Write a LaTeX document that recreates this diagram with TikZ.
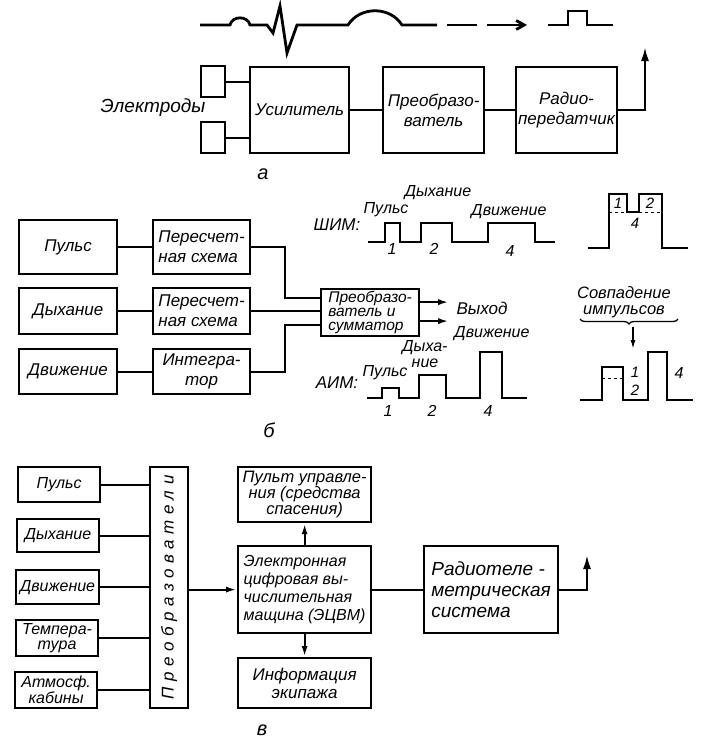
\documentclass[tikz,border=0pt]{standalone}
\usepackage{fontspec}
\setmainfont{Liberation Sans}
\newfontfamily\spacedfont[LetterSpace=33]{Liberation Sans}
\usetikzlibrary{arrows.meta,calc,decorations.pathreplacing}
\newcommand{\fsz}[2]{\fontsize{#1}{#2}\selectfont\itshape}

\begin{document}
\begin{tikzpicture}[x=1pt, y=-1pt,
  box/.style={
    rectangle,
    draw,
    line width=2.2pt,
    inner sep=2pt,
    align=center
  },
  wire/.style={line width=2.2pt},
  arr/.style={line width=2.2pt, -{Latex[length=11pt, width=6pt]}},
  wave/.style={line width=2.8pt, line join=miter},
  lbl/.style={inner sep=0pt, align=center}
  ]
  \useasboundingbox (0,0) rectangle (702,747);

  % a: electrodes, amplifier, transmitter
  \begin{scope}
    \node[anchor=north west, box, minimum width=24, minimum height=31] (el-top) at (200,65) {};
    \node[anchor=north west, box, minimum width=24, minimum height=31] (el-bot) at (200,121) {};
    \node[lbl, font=\fsz{19}{22}] (el-label) at (153,108) {Электроды};

    \node[anchor=north west, box, minimum width=99, minimum height=86, font=\fsz{17}{20}] (amp) at (249,66) {Усилитель};
    \node[anchor=north west, box, minimum width=101, minimum height=86, font=\fsz{17}{20}] (conv-a) at (382,66) {Преобразо-\\ватель};
    \node[anchor=north west, box, minimum width=100, minimum height=86, font=\fsz{17}{20}] (radio-a) at (515,66) {Радио-\\передатчик};
    \coordinate (a-out) at (645,47);

    \node[lbl, font=\fsz{20}{22}] (lbl-a) at (263,174) {а};
  \end{scope}

  \draw[wire] (el-top.east) -- (el-top.east -| amp.west);
  \draw[wire] (el-bot.east) -- (el-bot.east -| amp.west);
  \draw[wire] (amp) -- (conv-a);
  \draw[wire] (conv-a) -- (radio-a);
  \draw[arr, -{Latex[length=14pt, width=8pt]}] (radio-a.east) -| (a-out);

  % signal above
  \draw[wave] (200,25) -- (230,25) .. controls (232,15.5) and (248,15.5) .. (250,25)
    -- (267,25) -- (273,33) -- (280,6) -- (287,53) -- (297,25) -- (348,25)
    .. controls (360,6) and (390,6) .. (402,25) -- (437,25);
  \draw[wave] (447,25) -- (477,25);
  \draw[wave, -{Straight Barb[length=8pt, width=9pt]}] (487,25) -- (527,25);
  \draw[wave] (548,25) -- (568,25) -- (568,11) -- (587,11) -- (587,25) -- (613,25);

  % b: channels and summator
  \begin{scope}
    \node[anchor=north west, box, minimum width=98, minimum height=54, font=\fsz{17}{20}] (b-pulse) at (18,219) {Пульс};
    \node[anchor=north west, box, minimum width=98, minimum height=46, font=\fsz{17}{20}] (b-breath) at (18,287) {Дыхание};
    \node[anchor=north west, box, minimum width=98, minimum height=45, font=\fsz{17}{20}] (b-motion) at (18,348) {Движение};

    \node[anchor=north west, box, minimum width=97, minimum height=54, align=left, font=\fsz{17}{20}] (b-count1) at (152,219) {Пересчет-\\ная схема};
    \node[anchor=north west, box, minimum width=97, minimum height=46, align=left, font=\fsz{17}{20}] (b-count2) at (152,287) {Пересчет-\\ная схема};
    \node[anchor=north west, box, minimum width=97, minimum height=45, font=\fsz{17}{20}] (b-integr) at (152,348) {Интегра-\\тор};

    \node[anchor=north west, box, minimum width=98, minimum height=47, align=left, font=\fsz{15.5}{14}] (b-sum) at (320,288) {Преобразо-\\ватель и\\сумматор};
    \node[lbl, font=\fsz{17}{20}] (b-out) at (482,308) {Выход};

    \node[lbl, font=\fsz{20}{22}] (lbl-b) at (269,430) {б};
  \end{scope}

  \draw[wire] (b-pulse) -- (b-count1);
  \draw[wire] (b-breath) -- (b-count2);
  \draw[wire] (b-motion) -- (b-integr);
  \draw[wire] (b-count1.east) -- ++(34,0) |- ($(b-sum.west)+(0,-14.5)$);
  \draw[wire] (b-count2.east) -- (b-count2.east -| b-sum.west);
  \draw[wire] (b-integr.east) -- ++(34,0) |- ($(b-sum.west)+(0,12.5)$);
  \draw[arr] ($(b-sum.east)+(0,-10.5)$) -- ++(29,0);
  \draw[arr] ($(b-sum.east)+(0,8.5)$) -- ++(29,0);

  % PWM
  \node[lbl, font=\fsz{17}{20}] (pwm) at (337,225) {ШИМ:};
  \node[lbl, font=\fsz{16}{18}] (pwm-p) at (386,210) {Пульс};
  \node[lbl, font=\fsz{16}{18}] (pwm-b) at (438,193) {Дыхание};
  \node[lbl, font=\fsz{16}{18}] (pwm-m) at (509,212) {Движение};
  \node[lbl, font=\fsz{16}{18}] (pwm-1) at (392,249) {1};
  \node[lbl, font=\fsz{16}{18}] (pwm-2) at (434,249) {2};
  \node[lbl, font=\fsz{16}{18}] (pwm-4) at (510,251) {4};
  \draw[wave] (368,242) -- (385,242) -- (385,223) -- (400,223) -- (400,242)
    -- (421,242) -- (421,223) -- (452,223) -- (452,242)
    -- (488,242) -- (488,223) -- (535,223) -- (535,242) -- (555,242);

  % PAM
  \node[lbl, font=\fsz{17}{20}] (pam) at (337,383) {АИМ:};
  \node[lbl, font=\fsz{16}{18}] (pam-p) at (385,373) {Пульс};
  \node[lbl, font=\fsz{16}{15.5}] (pam-b) at (425,354) {Дыха-\\ние};
  \node[lbl, font=\fsz{16}{18}] (pam-m) at (492,334) {Движение};
  \node[lbl, font=\fsz{16}{18}] (pam-1) at (388,411) {1};
  \node[lbl, font=\fsz{16}{18}] (pam-2) at (432,411) {2};
  \node[lbl, font=\fsz{16}{18}] (pam-4) at (488,411) {4};
  \draw[wave] (367,398) -- (382,398) -- (382,388) -- (399,388) -- (399,398)
    -- (419,398) -- (419,375) -- (446,375) -- (446,398)
    -- (480,398) -- (480,352) -- (502,352) -- (502,398) -- (527,398);

  % overlap of pulses
  \node[lbl, font=\fsz{15}{18}] (ov-1) at (618,203) {1};
  \node[lbl, font=\fsz{15}{18}] (ov-2) at (650,203) {2};
  \node[lbl, font=\fsz{15}{18}] (ov-4) at (635,223) {4};
  \draw[wave] (588,248) -- (609,248) -- (609,194) -- (627,194) -- (627,212) -- (639,212)
    -- (639,194) -- (662,194) -- (662,248) -- (688,248);
  \draw[line width=1pt, dashed] (609,212) -- (627,212);
  \draw[line width=1pt, dashed] (639,212) -- (662,212);

  \node[lbl, font=\fsz{16.5}{16}] (coinc) at (624,302) {Совпадение\\импульсов};
  \draw[line width=1.3pt, decorate, decoration={brace, mirror, amplitude=5pt}] (580,319) -- (678,319);
  \coordinate (coinc-tip) at (633,327);
  \coordinate (coinc-end) at (633,349);
  \draw[line width=1.5pt, -{Latex[length=9pt, width=5pt]}] (coinc-tip) -- (coinc-end);
  \node[lbl, font=\fsz{15}{18}] (co-1) at (635,372) {1};
  \node[lbl, font=\fsz{15}{18}] (co-2) at (635,390) {2};
  \node[lbl, font=\fsz{16}{18}] (co-4) at (679,373) {4};
  \draw[wave] (580,400) -- (602,400) -- (602,367) -- (623,367) -- (623,400) -- (648,400)
    -- (648,352) -- (667,352) -- (667,400) -- (693,400);
  \draw[line width=1pt, dashed] (602,378) -- (623,378);

  % c: on-board computer
  \begin{scope}
    \node[anchor=north west, box, minimum width=82, minimum height=35, font=\fsz{16}{17}] (v-pulse) at (17,466) {Пульс};
    \node[anchor=north west, box, minimum width=82, minimum height=33, font=\fsz{16}{17}] (v-breath) at (16,518) {Дыхание};
    \node[anchor=north west, box, minimum width=83, minimum height=34, inner sep=1pt, font=\fsz{16}{17}] (v-motion) at (15,569) {Движение};
    \node[anchor=north west, box, minimum width=82, minimum height=36, font=\fsz{16}{15}] (v-temp) at (15,619) {Темпера-\\тура};
    \node[anchor=north west, box, minimum width=82, minimum height=36, font=\fsz{16}{15}] (v-atm) at (14,671) {Атмосф.\\кабины};

    \node[anchor=north west, box, minimum width=38, minimum height=241] (v-conv) at (149,466) {};
    \node[rotate=90, font={\spacedfont\fontsize{17}{20}\selectfont\itshape}] (v-conv-text) at (v-conv) {Преобразователи};

    \node[anchor=north west, box, minimum width=133, minimum height=55, font=\fsz{16.5}{15}] (v-panel) at (237,466) {Пульт управле-\\ния (средства\\спасения)};
    \node[anchor=north west, box, minimum width=133, minimum height=87, align=left, font=\fsz{16}{18}] (v-evm) at (237,545) {Электронная\\цифровая вы-\\числительная\\мащина (ЭЦВМ)};
    \node[anchor=north west, box, minimum width=133, minimum height=50, font=\fsz{17}{18}] (v-info) at (237,657) {Информация\\экипажа};
    \node[anchor=north west, box, minimum width=134, minimum height=87, align=left, font=\fsz{19}{21}] (v-radio) at (423,545) {Радиотеле -\\метрическая\\система};
    \coordinate (v-out) at (587,555);

    \node[lbl, font=\fsz{20}{22}] (lbl-c) at (262,730) {в};
  \end{scope}

  \foreach \s in {v-pulse, v-breath, v-motion, v-temp, v-atm}
    \draw[wire] (\s.east) -- (\s.east -| v-conv.west);
  \draw[arr] (v-conv.east |- v-evm.west) -- (v-evm.west);
  \draw[arr] (v-evm.north) -- (v-evm.north |- v-panel.south);
  \draw[arr] (v-evm.south) -- (v-evm.south |- v-info.north);
  \draw[wire] (v-evm) -- (v-radio);
  \draw[arr, -{Latex[length=14pt, width=8pt]}] (v-radio.east) -| (v-out);

\end{tikzpicture}
\end{document}
